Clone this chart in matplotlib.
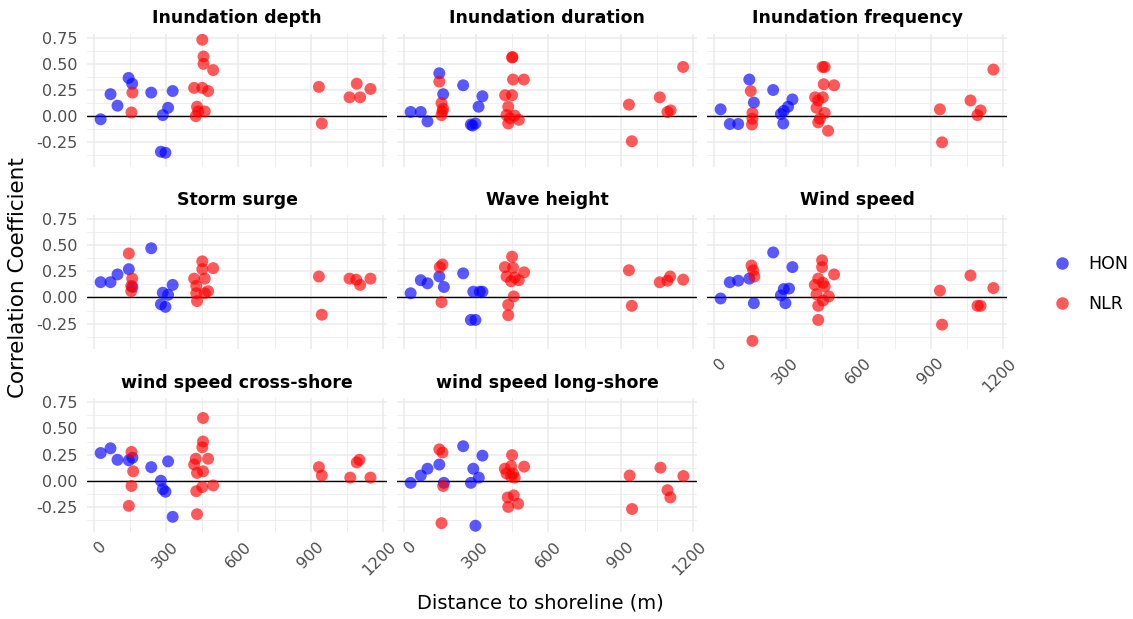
import matplotlib
matplotlib.use("Agg")
import matplotlib.pyplot as plt
from matplotlib.ticker import FixedLocator
from matplotlib.lines import Line2D
from matplotlib.transforms import ScaledTranslation

plt.rcParams['font.family'] = ['DejaVu Sans']

# ---------------- data ----------------
facet_titles = ["Inundation depth", "Inundation duration", "Inundation frequency",
                "Storm surge", "Wave height", "Wind speed",
                "wind speed cross-shore", "wind speed long-shore"]

x_ticks = [0, 300, 600, 900, 1200]
x_tick_labels = ["0", "300", "600", "900", "1200"]
y_ticks = [-0.25, 0.0, 0.25, 0.50, 0.75]
y_tick_labels = ["-0.25", "0.00", "0.25", "0.50", "0.75"]
series_names = ["HON", "NLR"]
series_colors = ["#0000FF", "#FF0000"]

# Inundation depth
depth_hon_x = [28, 69, 98, 144, 159, 238, 286, 308, 327, 278, 297]
depth_hon_y = [-0.03, 0.21, 0.10, 0.365, 0.31, 0.225, 0.01, 0.08, 0.24, -0.34, -0.35]
depth_nlr_x = [160, 156, 450, 455, 455, 495, 416, 450, 474, 428, 433, 423, 460, 934, 946, 1091, 1061, 1105, 1148]
depth_nlr_y = [0.225, 0.035, 0.73, 0.57, 0.50, 0.44, 0.27, 0.27, 0.24, 0.09, 0.045, 0.0, 0.045, 0.28, -0.07, 0.31, 0.18, 0.18, 0.26]

# Inundation duration
duration_hon_x = [28, 70, 98, 147, 163, 246, 326, 310, 278, 297, 285]
duration_hon_y = [0.04, 0.04, -0.05, 0.41, 0.21, 0.295, 0.19, 0.09, -0.08, -0.07, -0.09]
duration_nlr_x = [147, 156, 160, 156, 163, 451, 449, 453, 498, 420, 449, 433, 426, 440, 433, 477, 460, 934, 946, 1062, 1094, 1107, 1159]
duration_nlr_y = [0.33, 0.125, 0.045, 0.01, 0.07, 0.565, 0.56, 0.35, 0.35, 0.20, 0.20, 0.09, 0.01, -0.02, -0.07, -0.035, 0.005, 0.11, -0.24, 0.18, 0.04, 0.055, 0.47]

# Inundation frequency
frequency_hon_x = [28, 66, 101, 147, 166, 246, 326, 308, 290, 278, 288]
frequency_hon_y = [0.065, -0.075, -0.075, 0.35, 0.13, 0.25, 0.16, 0.09, 0.05, 0.02, -0.07]
frequency_nlr_x = [153, 160, 160, 158, 451, 460, 456, 499, 420, 452, 433, 426, 460, 433, 440, 474, 938, 947, 1065, 1107, 1094, 1160]
frequency_nlr_y = [0.24, 0.03, -0.025, -0.08, 0.47, 0.47, 0.305, 0.295, 0.18, 0.18, 0.15, 0.08, 0.03, -0.06, -0.025, -0.14, 0.065, -0.25, 0.15, 0.055, 0.01, 0.445]

# Storm surge
surge_hon_x = [28, 69, 98, 145, 160, 238, 327, 286, 308, 278, 297]
surge_hon_y = [0.146, 0.146, 0.22, 0.27, 0.10, 0.47, 0.12, 0.045, 0.025, -0.065, -0.09]
surge_nlr_x = [145, 159, 155, 155, 450, 450, 495, 416, 460, 425, 425, 428, 474, 460, 934, 946, 1061, 1089, 1105, 1148]
surge_nlr_y = [0.42, 0.18, 0.11, 0.06, 0.345, 0.27, 0.28, 0.18, 0.18, 0.11, 0.04, -0.035, 0.06, 0.04, 0.20, -0.165, 0.18, 0.17, 0.12, 0.18]

# Wave height
wave_hon_x = [28, 70, 98, 147, 166, 246, 288, 315, 326, 278, 297]
wave_hon_y = [0.04, 0.165, 0.135, 0.20, 0.10, 0.23, 0.055, 0.055, 0.055, -0.215, -0.215]
wave_nlr_x = [160, 149, 156, 449, 419, 453, 499, 426, 460, 445, 477, 456, 433, 433, 934, 946, 1062, 1094, 1105, 1159]
wave_nlr_y = [0.315, 0.29, -0.045, 0.39, 0.29, 0.285, 0.24, 0.20, 0.19, 0.155, 0.165, 0.01, -0.07, -0.17, 0.26, -0.08, 0.145, 0.16, 0.20, 0.17]

# Wind speed
wind_hon_x = [28, 66, 101, 147, 166, 246, 326, 312, 290, 278, 297]
wind_hon_y = [-0.01, 0.145, 0.16, 0.18, -0.055, 0.43, 0.29, 0.085, 0.08, 0.02, -0.055]
wind_nlr_x = [156, 163, 168, 160, 449, 449, 499, 433, 453, 419, 460, 426, 477, 453, 433, 433, 938, 947, 1065, 1094, 1107, 1160]
wind_nlr_y = [0.305, 0.26, 0.20, -0.415, 0.355, 0.29, 0.22, 0.18, 0.14, 0.12, 0.105, 0.03, 0.01, -0.03, -0.08, -0.215, 0.065, -0.26, 0.21, -0.08, -0.08, 0.09]

# wind speed cross-shore
cross_hon_x = [28, 69, 98, 145, 160, 238, 308, 278, 286, 297, 327]
cross_hon_y = [0.265, 0.31, 0.20, 0.195, 0.22, 0.13, 0.185, 0.0, -0.08, -0.105, -0.345]
cross_nlr_x = [156, 163, 156, 145, 453, 453, 450, 474, 423, 416, 453, 428, 450, 425, 495, 428, 934, 946, 1064, 1091, 1102, 1148]
cross_nlr_y = [0.275, 0.09, -0.05, -0.24, 0.60, 0.375, 0.32, 0.21, 0.21, 0.155, 0.09, 0.075, -0.06, -0.10, -0.045, -0.32, 0.13, 0.05, 0.03, 0.175, 0.20, 0.03]

# wind speed long-shore
long_hon_x = [28, 70, 98, 147, 166, 246, 326, 288, 311, 278, 297]
long_hon_y = [-0.02, 0.05, 0.115, 0.155, -0.02, 0.33, 0.24, 0.115, 0.03, -0.02, -0.43]
long_nlr_x = [147, 160, 163, 156, 449, 419, 499, 445, 426, 453, 445, 460, 456, 431, 474, 433, 937, 947, 1065, 1094, 1106, 1160]
long_nlr_y = [0.30, 0.27, -0.05, -0.405, 0.245, 0.115, 0.135, 0.14, 0.07, 0.07, 0.04, 0.03, -0.14, -0.16, -0.22, -0.25, 0.05, -0.27, 0.125, -0.09, -0.16, 0.045]

facet_data = [
    (depth_hon_x, depth_hon_y, depth_nlr_x, depth_nlr_y),
    (duration_hon_x, duration_hon_y, duration_nlr_x, duration_nlr_y),
    (frequency_hon_x, frequency_hon_y, frequency_nlr_x, frequency_nlr_y),
    (surge_hon_x, surge_hon_y, surge_nlr_x, surge_nlr_y),
    (wave_hon_x, wave_hon_y, wave_nlr_x, wave_nlr_y),
    (wind_hon_x, wind_hon_y, wind_nlr_x, wind_nlr_y),
    (cross_hon_x, cross_hon_y, cross_nlr_x, cross_nlr_y),
    (long_hon_x, long_hon_y, long_nlr_x, long_nlr_y),
]

# ---------------- layout ----------------
W, H = 1133, 619
fig = plt.figure(figsize=(W / 100, H / 100), dpi=100)

col_left = [87, 397, 707]
row_top = [33.7, 215, 398.3]
pw, ph = 300, 133.5

xlim = (-28.6, 1216.6)
ylim = (-0.488, 0.788)
x_minor = [150, 450, 750, 1050]
y_minor = [-0.375, -0.125, 0.125, 0.375, 0.625]

grid_col = "#EBEBEB"
text_col = "#4D4D4D"
alpha = 0.65
msize = 74

for i, title in enumerate(facet_titles):
    r, c = divmod(i, 3)
    left = col_left[c] / W
    bottom = 1 - (row_top[r] + ph) / H
    ax = fig.add_axes([left, bottom, pw / W, ph / H])
    ax.set_xlim(*xlim)
    ax.set_ylim(*ylim)
    for s in ax.spines.values():
        s.set_visible(False)
    ax.xaxis.set_major_locator(FixedLocator(x_ticks))
    ax.yaxis.set_major_locator(FixedLocator(y_ticks))
    ax.xaxis.set_minor_locator(FixedLocator(x_minor))
    ax.yaxis.set_minor_locator(FixedLocator(y_minor))
    ax.grid(which='major', color=grid_col, lw=1.1)
    ax.grid(which='minor', color=grid_col, lw=0.55)
    ax.set_axisbelow(True)
    ax.tick_params(which='both', length=0)

    if c == 0:
        ax.set_yticklabels(y_tick_labels, fontsize=11.5, color=text_col)
        ax.tick_params(axis='y', pad=7)
    else:
        ax.set_yticklabels([])

    show_x = (r == 2) or (r == 1 and c == 2)
    if show_x:
        ax.set_xticklabels(x_tick_labels, fontsize=11.5, color=text_col,
                           rotation=45, ha='right', va='top', rotation_mode='anchor')
        ax.tick_params(axis='x', pad=5)
        shift = ScaledTranslation(5 / 100, 0, fig.dpi_scale_trans)
        for lab in ax.get_xticklabels():
            lab.set_transform(lab.get_transform() + shift)
    else:
        ax.set_xticklabels([])

    ax.axhline(0, color='black', lw=1.0, zorder=1.5)

    hx, hy, nx, ny = facet_data[i]
    ax.scatter(hx, hy, s=msize, color=series_colors[0], alpha=alpha, edgecolors='none', zorder=3)
    ax.scatter(nx, ny, s=msize, color=series_colors[1], alpha=alpha, edgecolors='none', zorder=3)

    ax.annotate(title, xy=(0.5, 1), xycoords='axes fraction', xytext=(0, 7.5),
                textcoords='offset points', ha='center', va='baseline',
                fontsize=12.5, fontweight='bold', color='black')

# axis titles
fig.text(18 / W, 1 - 278 / H, "Correlation Coefficient", rotation=90,
         ha='center', va='center', fontsize=15.5, color='black')
fig.text(540 / W, 1 - 603 / H, "Distance to shoreline (m)",
         ha='center', va='center', fontsize=14, color='black')

# legend
handles = [Line2D([0], [0], marker='o', linestyle='none', markersize=9,
                  markerfacecolor=series_colors[k], markeredgecolor='none', alpha=alpha)
           for k in range(2)]
fig.legend(handles, series_names, loc='center left', bbox_to_anchor=(1043 / W, 1 - 284 / H),
           frameon=False, fontsize=12.5, handletextpad=0.9, labelspacing=1.3,
           handlelength=1.2, borderpad=0)

fig.savefig("out.png", dpi=100, facecolor='white')
